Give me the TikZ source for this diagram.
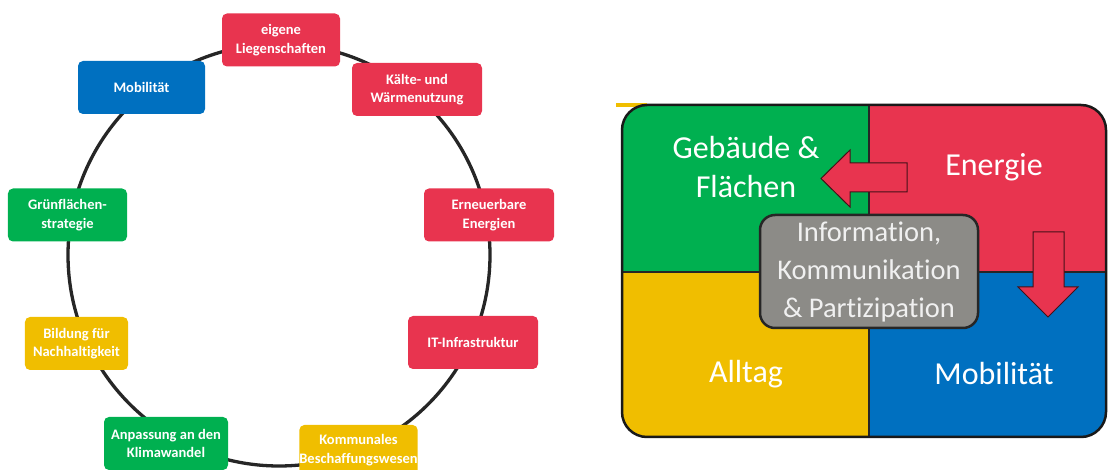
\documentclass[tikz,border=0pt]{standalone}
\usepackage{fontspec}
\setmainfont{Carlito}[Ligatures=CommonOff]
\definecolor{cred}{HTML}{E8344F}
\definecolor{cgreen}{HTML}{00B050}
\definecolor{cblue}{HTML}{0070C0}
\definecolor{cyel}{HTML}{F0BE00}
\definecolor{cgray}{HTML}{8C8B87}
\begin{document}
\begin{tikzpicture}[x=1bp,y=-1bp,
  topic/.style={rounded corners=5bp, text=white, align=center, inner sep=0pt,
    font=\fontsize{14.5bp}{18.5bp}\selectfont\bfseries, minimum height=53bp},
  quadlabel/.style={text=white, align=center, font=\fontsize{32bp}{39bp}\selectfont},
  bigarrow/.style={fill=cred, draw=black!70!cred, line width=1bp, line join=miter}]
\useasboundingbox (0,0) rectangle (1108,470);
\clip (0,0) rectangle (1108,470);
% ring
\draw[line width=3.3bp, black!85] (279,255) ellipse [x radius=211, y radius=211];
% ring topics
\node[topic, fill=cred, minimum width=118bp] (lieg) at (281,40) {eigene\\Liegenschaften};
\node[topic, fill=cblue, minimum width=127bp] (mob) at (141.5,87.5) {Mobilität};
\node[topic, fill=cred, minimum width=130bp] (kaelte) at (417,89.5) {Kälte- und\\Wärmenutzung};
\node[topic, fill=cgreen, minimum width=119bp] (gruen) at (67.5,215) {Grünflächen-\\strategie};
\node[topic, fill=cred, minimum width=130bp] (ern) at (489,215) {Erneuerbare\\Energien};
\node[topic, fill=cyel, minimum width=103bp] (bild) at (76.5,343.5) {Bildung für\\Nachhaltigkeit};
\node[topic, fill=cred, minimum width=130bp] (it) at (473,342.5) {IT-Infrastruktur};
\node[topic, fill=cgreen, minimum width=124bp] (anp) at (166,443.5) {Anpassung an den\\Klimawandel};
\node[topic, fill=cyel, minimum width=115bp, minimum height=50bp] (komm) at (358.5,450) {Kommunales\\Beschaffungswesen};
% right panel
\fill[cyel] (616,103) rectangle (647,107);
\begin{scope}
  \clip[rounded corners=25bp] (622,105) rectangle (1106,437);
  \fill[cgreen] (600,90) rectangle (869,272);
  \fill[cred] (869,90) rectangle (1120,272);
  \fill[cyel] (600,272) rectangle (869,450);
  \fill[cblue] (869,272) rectangle (1120,450);
  \draw[line width=2bp, black!85] (869,90) -- (869,450);
  \draw[line width=2bp, black!85] (600,272) -- (1120,272);
\end{scope}
\draw[line width=2.5bp, black!90, rounded corners=25bp] (622,105) rectangle (1106,437);
% arrows
\draw[bigarrow] (907,163) -- (850,163) -- (850,150) -- (821,178.5) -- (850,207) -- (850,192) -- (907,192) -- cycle;
\draw[bigarrow] (1033,232) -- (1064,232) -- (1064,287) -- (1078,287) -- (1048,317) -- (1018,287) -- (1033,287) -- cycle;
% labels
\node[quadlabel] (geb) at (746,167) {Gebäude \&\\Flächen};
\node[quadlabel] (ene) at (994,167) {Energie};
\node[quadlabel] (all) at (746,374) {Alltag};
\node[quadlabel] (mobr) at (994,374) {Mobilität};
% centre box
\node[draw=black!85, line width=2.5bp, fill=cgray, rounded corners=15bp,
  minimum width=218bp, minimum height=113bp, text=white!94!black, align=center,
  font=\fontsize{28.5bp}{38bp}\selectfont] (info) at (869,271.5)
  {Information,\\Kommunikation\\\& Partizipation};
\end{tikzpicture}
\end{document}
